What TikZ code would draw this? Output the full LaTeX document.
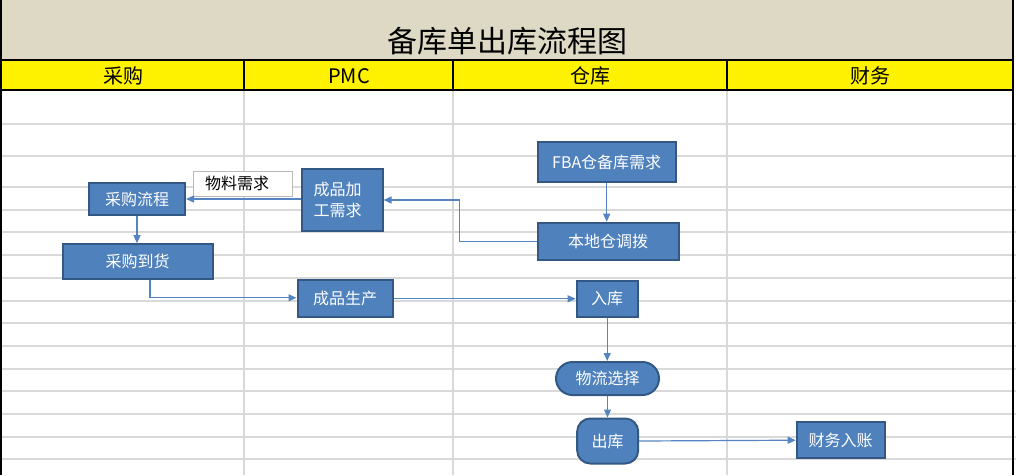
\documentclass[tikz,border=0pt]{standalone}
\usepackage{fontspec}
\setmainfont{Noto Sans CJK SC}
\usetikzlibrary{arrows.meta}
\definecolor{beige}{RGB}{221,217,196}
\definecolor{boxblue}{RGB}{79,129,189}
\definecolor{boxedge}{RGB}{52,88,132}
\definecolor{gridgray}{RGB}{217,217,217}
\definecolor{arrowblue}{RGB}{84,133,194}
\begin{document}
\begin{tikzpicture}[x=1pt,y=-1pt,
  proc/.style={draw=boxedge,fill=boxblue,line width=2pt,text=white,
    font=\fontsize{16}{21}\selectfont,inner sep=0pt,align=center},
  flow/.style={draw=arrowblue,line width=1.2pt,-{Triangle[length=8pt,width=7pt]}},
  gridline/.style={draw=gridgray,line width=1.4pt},
  frame/.style={draw=black,line width=2pt},
  headtext/.style={font=\fontsize{20}{24}\selectfont,text=black,inner sep=0pt}]
\useasboundingbox (0,0) rectangle (1016,475);
% background bands
\fill[white] (0,0) rectangle (1016,475);
\fill[beige] (0,0) rectangle (1013,60);
\fill[yellow] (0,60) rectangle (1013,90);
% grid
\foreach \yy in {124,156,187,210,232,255,278,301,323,346,369,391,414,437,459}
  \draw[gridline] (2,\yy) -- (1016,\yy);
\foreach \xx in {244,453,727}
  \draw[gridline] (\xx,91) -- (\xx,475);
% frame lines
\draw[frame] (1,0) -- (1,475);
\draw[frame] (1013,0) -- (1013,475);
\draw[frame] (0,60) -- (1013,60);
\draw[frame] (0,90) -- (1013,90);
\foreach \xx in {244,453,727}
  \draw[frame] (\xx,60) -- (\xx,90);
% title and headers
\node[font=\fontsize{30}{34}\selectfont,inner sep=0pt] (title) at (507,41) {备库单出库流程图};
\node[headtext] (h1) at (123,76) {采购};
\node[headtext] (h2) at (349,76) {PMC};
\node[headtext] (h3) at (590,76) {仓库};
\node[headtext] (h4) at (870,76) {财务};
% nodes
\node[proc,minimum width=96pt,minimum height=32pt] (cg) at (137,199) {采购流程};
\node[draw=gray!55,fill=white,line width=0.8pt,text=black,font=\fontsize{16}{21}\selectfont,
  inner xsep=12pt,inner ysep=0pt,text width=75pt,align=left,minimum height=25pt] (wl) at (242.5,183.5) {物料需求};
\node[proc,minimum width=81pt,minimum height=62pt,align=left,text width=57pt,inner xsep=12pt] (cp) at (342,200) {成品加\\工需求};
\node[proc,minimum width=150pt,minimum height=35pt] (dh) at (137.5,261.7) {采购到货};
\node[proc,minimum width=95pt,minimum height=37pt] (sc) at (345,298.8) {成品生产};
\node[proc,minimum width=138pt,minimum height=40pt] (fba) at (606.7,162) {FBA仓备库需求};
\node[proc,minimum width=141pt,minimum height=37pt] (bd) at (608,241.2) {本地仓调拨};
\node[proc,minimum width=61pt,minimum height=36pt] (rk) at (607.2,298.8) {入库};
\node[proc,minimum width=103pt,minimum height=33pt,rounded corners=16.5pt] (wlxz) at (607.5,378.5) {物流选择};
\node[proc,minimum width=61pt,minimum height=45pt,rounded corners=13pt] (ck) at (607.7,441) {出库};
\node[proc,minimum width=88pt,minimum height=36pt] (cw) at (840.7,440.2) {财务入账};
% connectors
\draw[flow] (cg.east -| cp.west) -- (cg.east);
\draw[flow] (cg.south) -- (cg.south |- dh.north);
\draw[flow] ([xshift=12.5pt]dh.south) |- ([yshift=1pt]sc.west);
\draw[flow] (bd.west) -- ++(-76.7,0) |- (cp.east);
\draw[flow] (fba.south) -- (fba.south |- bd.north);
\draw[flow] (sc.east) -- (rk.west);
\draw[flow] (rk.south) -- (rk.south |- wlxz.north);
\draw[flow] (wlxz.south) -- (wlxz.south |- ck.north);
\draw[flow] (ck.east) -- (cw.west);
\end{tikzpicture}
\end{document}
